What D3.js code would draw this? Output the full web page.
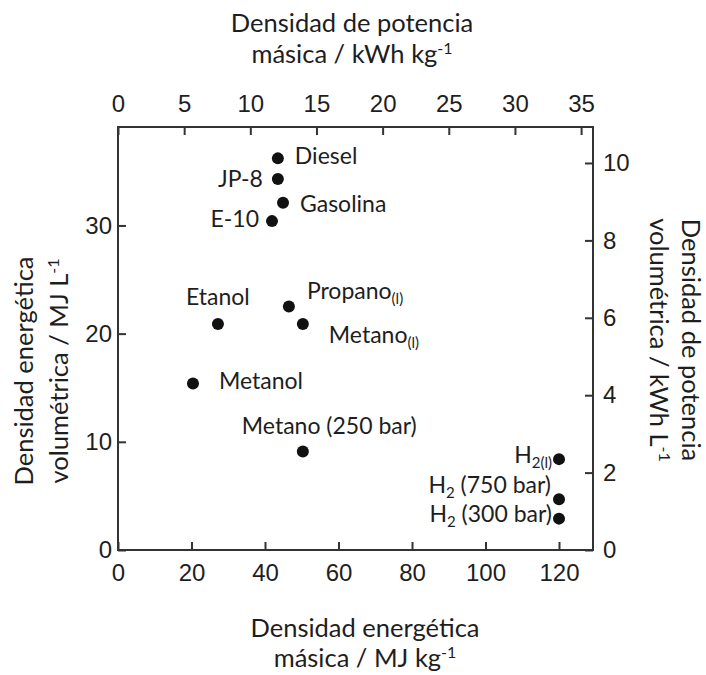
<!DOCTYPE html>
<html>
<head>
<meta charset="utf-8">
<script src="https://cdn.jsdelivr.net/npm/d3@7"></script>
<style>
  body { margin: 0; background: #fff; }
  svg text { fill: #1e1e1e; }
  .tick-label { font-family: "Liberation Sans", Arial, sans-serif; font-size: 24px; }
  .title, .pt-label { font-family: Lato, "Open Sans", sans-serif; }
</style>
</head>
<body>
<svg id="chart" width="706" height="675"></svg>
<script>
// data
const labels = ['Diesel', 'JP-8', 'Gasolina', 'E-10', 'Propano_{(l)}', 'Etanol', 'Metano_{(l)}',
  'Metanol', 'Metano (250 bar)', 'H_{2(l)}', 'H_{2} (750 bar)', 'H_{2} (300 bar)'];
const masica = [43.5, 43.5, 44.9, 41.9, 46.5, 27.2, 50.3, 20.4, 50.3, 120, 120, 120];     // MJ/kg
const volumetrica = [36.2, 34.3, 32.1, 30.4, 22.5, 20.9, 20.9, 15.4, 9.1, 8.4, 4.7, 2.9]; // MJ/L

const bottomTicks = [0, 20, 40, 60, 80, 100, 120];
const topTicks = [0, 5, 10, 15, 20, 25, 30, 35];
const leftTicks = [0, 10, 20, 30];
const rightTicks = [0, 2, 4, 6, 8, 10];

// label placement: offset from the dot, anchor
const labelPos = [
  [17, 6, 'start'], [-15, 8, 'end'], [17, 9, 'start'], [-13, 6, 'end'],
  [18, -8, 'start'], [-32, -19, 'start'], [26, 19, 'start'], [26, 6, 'start'],
  [-61, -18, 'start'], [-7, 4, 'end'], [-8, -6, 'end'], [-7, 3, 'end']
];

const svg = d3.select('#chart');
const m = { left: 118, right: 593, top: 127, bottom: 550 };

const x = d3.scaleLinear().domain([0, 129.25]).range([m.left, m.right]);
const xTop = d3.scaleLinear().domain([0, 35.9]).range([m.left, m.right]);
const y = d3.scaleLinear().domain([0, 39.1]).range([m.bottom, m.top]);
const yRight = d3.scaleLinear().domain([0, 10.93]).range([m.bottom, m.top]);

function styleAxis(g) {
  g.select('.domain').remove();
  g.selectAll('.tick line').attr('stroke', '#333').attr('stroke-width', 2);
  g.selectAll('.tick text').attr('class', 'tick-label').attr('fill', '#1e1e1e');
}

// axes, ticks pointing inward
svg.append('g').attr('transform', `translate(0,${m.bottom})`)
  .call(d3.axisBottom(x).tickValues(bottomTicks).tickSizeInner(-8).tickSizeOuter(0).tickPadding(14))
  .call(styleAxis);
svg.append('g').attr('transform', `translate(0,${m.top})`)
  .call(d3.axisTop(xTop).tickValues(topTicks).tickSizeInner(-8).tickSizeOuter(0).tickPadding(15))
  .call(styleAxis);
svg.append('g').attr('transform', `translate(${m.left},0)`)
  .call(d3.axisLeft(y).tickValues(leftTicks).tickSizeInner(-8).tickSizeOuter(0).tickPadding(6))
  .call(styleAxis);
svg.append('g').attr('transform', `translate(${m.right},0)`)
  .call(d3.axisRight(yRight).tickValues(rightTicks).tickSizeInner(-8).tickSizeOuter(0).tickPadding(10))
  .call(styleAxis);

// frame
svg.append('rect')
  .attr('x', m.left).attr('y', m.top)
  .attr('width', m.right - m.left).attr('height', m.bottom - m.top)
  .attr('fill', 'none').attr('stroke', '#333').attr('stroke-width', 2);

// points
const data = labels.map((l, i) => ({ label: l, mx: masica[i], vy: volumetrica[i], pos: labelPos[i] }));

svg.append('g').selectAll('circle')
  .data(data)
  .join('circle')
  .attr('cx', d => x(d.mx))
  .attr('cy', d => y(d.vy))
  .attr('r', 6)
  .attr('fill', '#111');

// text with _{sub} and ^{sup} parts
function richText(sel, str, size, small) {
  const parts = str.split(/([_^]\{[^}]*\})/).filter(s => s.length);
  let shift = 0;
  parts.forEach(p => {
    const mm = p.match(/^([_^])\{([^}]*)\}$/);
    if (mm) {
      const target = mm[1] === '_' ? 5 : -9;
      sel.append('tspan').attr('dy', target - shift).attr('font-size', small).text(mm[2]);
      shift = target;
    } else {
      sel.append('tspan').attr('dy', -shift).attr('font-size', size).text(p);
      shift = 0;
    }
  });
}

svg.append('g').selectAll('text')
  .data(data)
  .join('text')
  .attr('class', 'pt-label')
  .attr('x', d => x(d.mx) + d.pos[0])
  .attr('y', d => y(d.vy) + d.pos[1])
  .attr('text-anchor', d => d.pos[2])
  .each(function(d) { richText(d3.select(this), d.label, 23, 15); });

// axis titles
function title(lines, tx, ty, rot, gap) {
  const g = svg.append('g').attr('transform', `translate(${tx},${ty}) rotate(${rot})`);
  lines.forEach((l, i) => {
    const t = g.append('text').attr('class', 'title')
      .attr('text-anchor', 'middle').attr('y', i * gap);
    richText(t, l, 25.5, 16);
  });
}

title(['Densidad de potencia', 'másica / kWh kg^{-1}'], 352, 32, 0, 31);
title(['Densidad energética', 'másica / MJ kg^{-1}'], 365, 637, 0, 30);
title(['Densidad energética', 'volumétrica / MJ L^{-1}'], 33, 371, -90, 35);
title(['Densidad de potencia', 'volumétrica / kWh L^{-1}'], 682, 340, 90, 32);
</script>
</body>
</html>
